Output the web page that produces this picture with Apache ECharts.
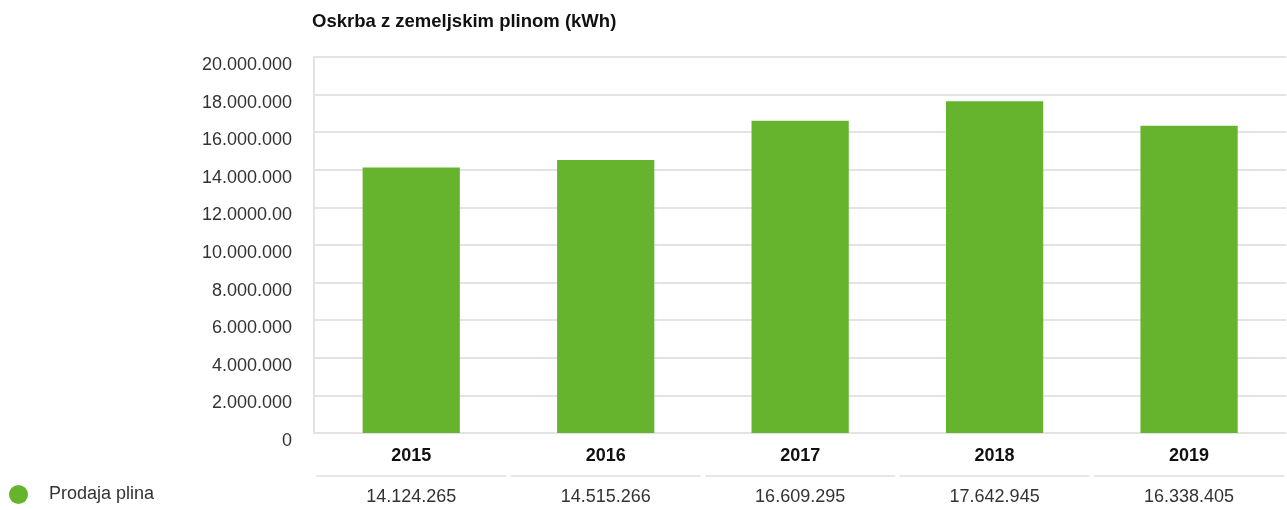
<!DOCTYPE html>
<html>
<head>
<meta charset="utf-8">
<script src="https://cdn.jsdelivr.net/npm/echarts@6/dist/echarts.min.js"></script>
<style>
html,body{margin:0;padding:0;background:#fff;}
#chart{width:1287px;height:510px;}
</style>
</head>
<body>
<div id="chart"></div>
<script>
var titleText = 'Oskrba z zemeljskim plinom (kWh)';
var seriesName = 'Prodaja plina';
var years = ['2015', '2016', '2017', '2018', '2019'];
var values = [14124265, 14515266, 16609295, 17642945, 16338405];
var valueLabels = ['14.124.265', '14.515.266', '16.609.295', '17.642.945', '16.338.405'];
var yTickLabels = ['0', '2.000.000', '4.000.000', '6.000.000', '8.000.000', '10.000.000',
  '12.0000.00', '14.000.000', '16.000.000', '18.000.000', '20.000.000'];

var FONT = '"Liberation Sans", Arial, Helvetica, sans-serif';
var GREEN = '#66b32e';
var GRID = '#e3e3e3';

var chart = echarts.init(document.getElementById('chart'), null, {renderer: 'canvas'});
chart.setOption({
  animation: false,
  backgroundColor: '#fff',
  textStyle: {fontFamily: FONT},
  title: {
    text: titleText,
    left: 312,
    top: 12,
    padding: 0,
    textStyle: {fontFamily: FONT, fontSize: 18.5, fontWeight: 'bold', color: '#111'}
  },
  legend: {
    data: [seriesName],
    left: 9,
    top: 485,
    padding: 0,
    icon: 'circle',
    itemWidth: 19,
    itemHeight: 19,
    selectedMode: false,
    textStyle: {fontFamily: FONT, fontSize: 18, color: '#333', padding: [0, 0, 0, 16]}
  },
  grid: {left: 314, right: 0, top: 57, bottom: 77, containLabel: false},
  xAxis: {
    type: 'category',
    data: years,
    axisLine: {show: false},
    axisTick: {show: false},
    axisLabel: {
      interval: 0,
      margin: 4,
      verticalAlign: 'top',
      formatter: function (val, idx) {
        return '{y|' + val + '}\n{s| }\n{v|' + valueLabels[idx] + '}';
      },
      rich: {
        y: {fontFamily: FONT, fontSize: 18, fontWeight: 'bold', color: '#111', lineHeight: 38},
        s: {fontSize: 1, width: 190, height: 2, lineHeight: 2, backgroundColor: '#e6e6e6'},
        v: {fontFamily: FONT, fontSize: 18, color: '#333', lineHeight: 40}
      }
    }
  },
  yAxis: {
    type: 'value',
    min: 0,
    max: 20000000,
    interval: 2000000,
    axisLine: {show: true, lineStyle: {color: GRID, width: 2}},
    axisTick: {show: false},
    splitLine: {show: true, lineStyle: {color: GRID, width: 2}},
    axisLabel: {
      margin: 22,
      fontFamily: FONT,
      fontSize: 18,
      color: '#333',
      verticalAlign: 'top',
      lineHeight: 16
    },
    axisPointer: {show: false}
  },
  series: [{
    name: seriesName,
    type: 'bar',
    data: values,
    barWidth: '50%',
    itemStyle: {color: GREEN}
  }]
});
chart.setOption({
  yAxis: {
    axisLabel: {
      formatter: function (v) {
        return yTickLabels[Math.round(v / 2000000)];
      }
    }
  }
});
</script>
</body>
</html>
